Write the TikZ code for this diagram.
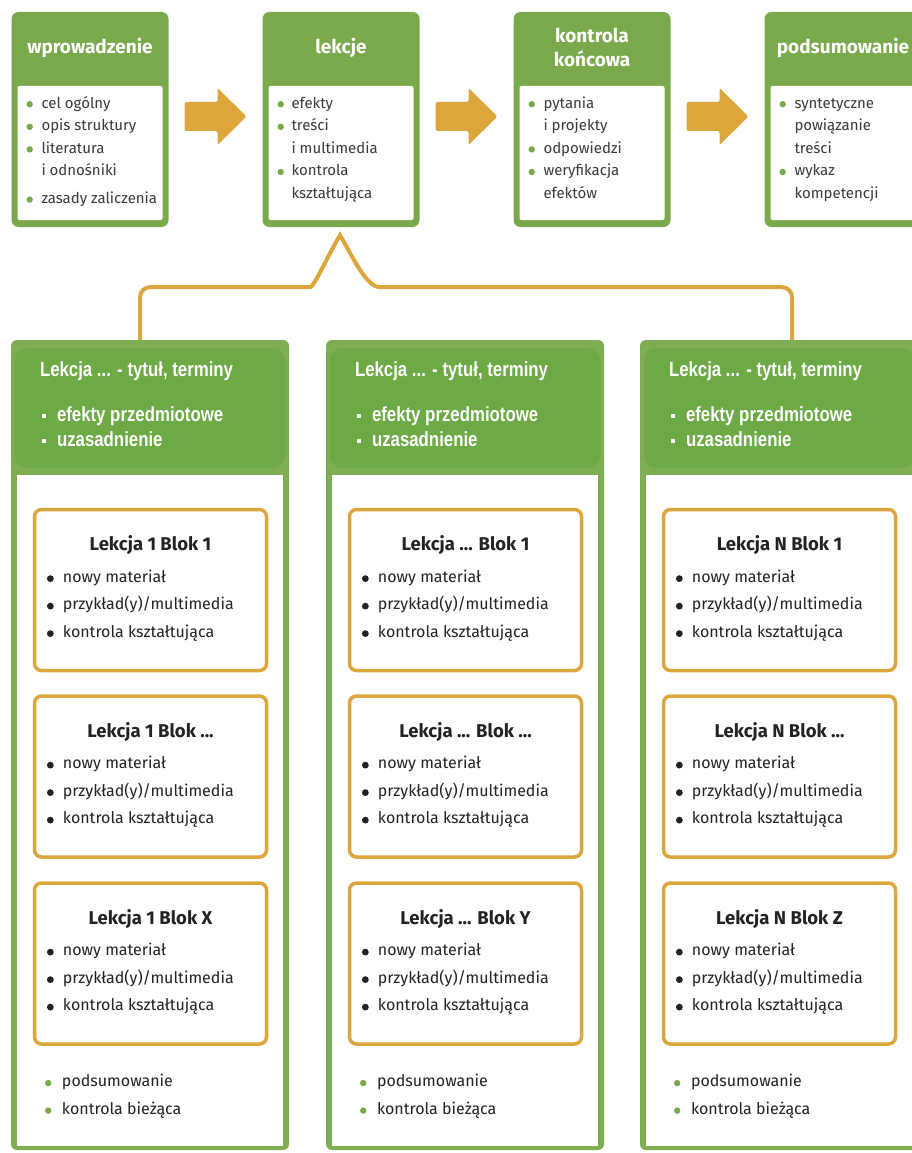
\documentclass[tikz,border=0pt]{standalone}
\usepackage{fontspec}
\setmainfont{Fira Sans}
\newfontfamily\narrowfont[FakeStretch=0.82]{Liberation Sans}
\usetikzlibrary{positioning,calc}

\definecolor{leafgreen}{HTML}{7AA94C}
\definecolor{colgreen}{HTML}{7FAD52}
\definecolor{headgreen}{HTML}{6DAA45}
\definecolor{gold}{HTML}{DCA63D}
\definecolor{inkgray}{HTML}{3A3A3A}
\definecolor{ink}{HTML}{222222}

\newcommand\kropki{...}
% bullet: box width, colour, radius
\newcommand\dotb[3]{\makebox[#1][l]{\rule{0pt}{12pt}\tikz[baseline=-3.8pt]\fill[#2] (0,0) circle (#3);}}
\newcommand\sqb{\makebox[15pt][l]{\rule{0pt}{12pt}\tikz[baseline=-6pt]\fill[white] (-2.2pt,-2.2pt) rectangle (2.2pt,2.2pt);}}

\tikzset{
  topbox/.style={fill=leafgreen, rounded corners=7pt, minimum width=157pt, minimum height=215pt, inner sep=0pt},
  topinner/.style={fill=white, rounded corners=2pt, minimum width=145pt, minimum height=134pt, inner sep=0pt},
  toptitle/.style={text=white, font=\bfseries\fontsize{19}{24}\selectfont, align=center, inner sep=0pt},
  toplist/.style={text=inkgray, font=\fontsize{15}{22.6}\selectfont, align=left, anchor=north west, inner sep=0pt},
  flowarrow/.style={fill=gold, rounded corners=1.5pt},
  column/.style={fill=colgreen, rounded corners=6pt, minimum width=278pt, minimum height=810pt, inner sep=0pt},
  colhead/.style={fill=headgreen, rounded corners=12pt, minimum width=270pt, minimum height=120pt, inner sep=0pt},
  colbody/.style={fill=white, minimum width=266pt, minimum height=671pt, inner sep=0pt},
  coltitle/.style={text=white, font=\narrowfont\bfseries\fontsize{20.5}{24}\selectfont, anchor=base west, inner sep=0pt},
  collist/.style={text=white, font=\narrowfont\bfseries\fontsize{20.5}{25}\selectfont, align=left, anchor=north west, inner sep=0pt},
  blok/.style={draw=gold, line width=3.5pt, fill=white, rounded corners=7pt, minimum width=232pt, minimum height=161pt, inner sep=0pt},
  bloktitle/.style={text=ink, font=\bfseries\fontsize{18.5}{22}\selectfont, anchor=base, inner sep=0pt},
  bloklist/.style={text=ink, font=\fontsize{16}{27.5}\selectfont, align=left, anchor=north west, inner sep=0pt},
  link/.style={draw=gold, line width=4pt}
}

\begin{document}
\begin{tikzpicture}[x=1pt,y=-1pt]
  \useasboundingbox (0,0) rectangle (911,1153);

  % top row
  \node[topbox] (intro) at (90,119.5) {};
  \node[topbox] (lessons) at (341,119.5) {};
  \node[topbox] (exam) at (592,119.5) {};
  \node[topbox] (summary) at (843,119.5) {};
  \foreach \p in {intro,lessons,exam,summary}
    \node[topinner, anchor=north] (\p-in) at ($(\p.north)+(0,74)$) {};

  \node[toptitle] (intro-t) at ($(intro.north)+(0,36)$) {wprowadzenie};
  \node[toptitle] (lessons-t) at ($(lessons.north)+(0,36)$) {lekcje};
  \node[toptitle] (exam-t) at ($(exam.north)+(0,36)$) {kontrola\\końcowa};
  \node[toptitle] (summary-t) at ($(summary.north)+(0,36)$) {podsumowanie};

  \node[toplist] (intro-l) at ($(intro.north west)+(15,84)$)
    {\dotb{15pt}{leafgreen}{3.2pt}cel ogólny\\ \dotb{15pt}{leafgreen}{3.2pt}opis struktury\\
     \dotb{15pt}{leafgreen}{3.2pt}literatura\\ \hspace*{15pt}i odnośniki\\[5pt]
     \dotb{15pt}{leafgreen}{3.2pt}zasady zaliczenia};
  \node[toplist] (lessons-l) at ($(lessons.north west)+(15,84)$)
    {\dotb{14pt}{leafgreen}{3.2pt}efekty\\ \dotb{14pt}{leafgreen}{3.2pt}treści\\
     \hspace*{14pt}i multimedia\\ \dotb{14pt}{leafgreen}{3.2pt}kontrola\\ \hspace*{14pt}kształtująca};
  \node[toplist] (exam-l) at ($(exam.north west)+(15,84)$)
    {\dotb{15pt}{leafgreen}{3.2pt}pytania\\ \hspace*{15pt}i projekty\\
     \dotb{15pt}{leafgreen}{3.2pt}odpowiedzi\\ \dotb{15pt}{leafgreen}{3.2pt}weryfikacja\\ \hspace*{15pt}efektów};
  \node[toplist] (summary-l) at ($(summary.north west)+(15,84)$)
    {\dotb{15pt}{leafgreen}{3.2pt}syntetyczne\\ \hspace*{15pt}powiązanie\\ \hspace*{15pt}treści\\
     \dotb{15pt}{leafgreen}{3.2pt}wykaz\\ \hspace*{15pt}kompetencji};

  % arrows between the parts
  \foreach \a/\b in {intro/lessons,lessons/exam,exam/summary} {
    \coordinate (m) at ($(\a.east)!0.5!(\b.west)$);
    \fill[flowarrow] (m) ++(-31,-17.5) -- ++(33,0) -- ++(0,-14) -- ++(29,28.5)
      -- ++(-29,28.5) -- ++(0,-14) -- ++(-33,0) -- cycle;
  }

  % lesson columns
  \foreach \c/\cx/\lk/\lastb in {1/150/1/X,2/465/\kropki/Y,3/779/N/Z} {
    \node[column] (col\c) at (\cx,745) {};
    \node[colhead, anchor=north] (col\c-head) at ($(col\c.north)+(0,8)$) {};
    \node[colbody, anchor=south] (col\c-body) at ($(col\c.south)+(0,-4)$) {};
    \node[coltitle] (col\c-t) at ($(col\c.north west)+(29,37)$) {Lekcja ... - tytuł, terminy};
    \node[collist] (col\c-l) at ($(col\c.north west)+(31,67)$)
      {\sqb efekty przedmiotowe\\ \sqb uzasadnienie};
    \foreach \b/\by/\bn in {1/590/1,2/776.5/\kropki,3/963.5/\lastb} {
      \node[blok] (b\c\b) at (\cx+0.5,\by) {};
      \node[bloktitle] (b\c\b-t) at ($(b\c\b.north)+(0,43)$) {Lekcja \lk{} Blok \bn};
      \node[bloklist] (b\c\b-l) at ($(b\c\b.north west)+(14,62)$)
        {\dotb{16pt}{ink}{3.4pt}nowy materiał\\ \dotb{16pt}{ink}{3.4pt}przykład(y)/multimedia\\
         \dotb{16pt}{ink}{3.4pt}kontrola kształtująca};
    }
    \node[bloklist] (col\c-end) at ($(col\c.south west)+(34,-76)$)
      {\dotb{17pt}{leafgreen}{3.2pt}podsumowanie\\ \dotb{17pt}{leafgreen}{3.2pt}kontrola bieżąca};
  }

  % lessons expand into the columns
  \coordinate (peak) at ($(lessons.south)+(-1,8)$);
  \draw[link] ([xshift=-10pt]col1.north) [rounded corners=10pt] |- ($(peak)+(-40,52)$)
    [sharp corners] .. controls +(14,0) and +(-12,20) .. (peak)
    .. controls +(12,20) and +(-14,0) .. ($(peak)+(40,52)$)
    [rounded corners=10pt] -| ([xshift=13pt]col3.north);
\end{tikzpicture}
\end{document}
